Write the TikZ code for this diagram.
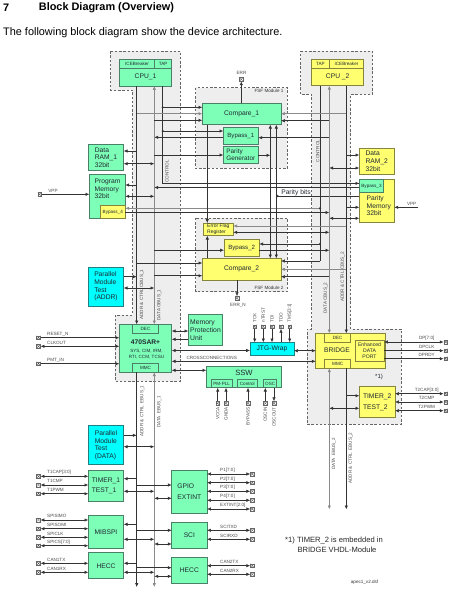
\documentclass[tikz,border=0pt]{standalone}
\usepackage{fontspec}
\setmainfont{Liberation Sans}
\usetikzlibrary{arrows.meta}
\definecolor{grn}{HTML}{7DFFB8}
\definecolor{yel}{HTML}{FFFF70}
\definecolor{cyn}{HTML}{00FFFF}
\definecolor{reg}{HTML}{EEEEEE}
\definecolor{bln}{HTML}{4A7F68}
\definecolor{yln}{HTML}{85853C}
\definecolor{cln}{HTML}{207F7F}
\definecolor{lin}{HTML}{333333}
\definecolor{gln}{HTML}{8A8A8A}
\definecolor{txt}{HTML}{202830}
\newcommand\fM{\fontsize{6.7}{7.7}\selectfont}
\newcommand\fS{\fontsize{4.6}{5.2}\selectfont}
\newcommand\fE{\fontsize{5.1}{5.7}\selectfont}
\newcommand\fH{\fontsize{10.9}{12}\selectfont}
\newcommand\bx[7]{\pgfmathsetmacro\bw{#4-#2}\pgfmathsetmacro\bh{#5-#3}\pgfmathsetmacro\bcx{(#2+#4)/2}\pgfmathsetmacro\bcy{(#3+#5)/2}\node[#6,minimum width=\bw pt,minimum height=\bh pt] (#1) at (\bcx,\bcy) {#7};}
\newcommand\hl[4][]{\draw[conn,#1] (#2 |- 0,#4) -- (#3 |- 0,#4);}
\newcommand\vl[4][]{\draw[conn,#1] (#2 |- #3) -- (#2 |- #4);}
\newcommand\lport[5][]{\node[port] (#2) at (38.5,#3) {};\node[plbl,anchor=west] (#2t) at ({47},{#3-3.6}) {#4};\draw[conn,#1] (#2) -- (#5.west |- #2);}
\newcommand\rport[6][]{\node[port] (#2) at (#6,#3) {};\node[plbl,anchor=west] (#2t) at ({220},{#3-3.6}) {#4};\draw[conn,#1] (#2) -- (#5.east |- #2);}
\newcommand\bport[5][]{\node[port] (#2) at (445.7,#3) {};\node[plbl] (#2t) at ({426.7},{#3-3.8}) {#4};\draw[conn,#1] (#2) -- (#5.east |- #2);}
\newcommand\tport[5][]{\node[port] (#2) at (#3,326.7) {};\node[plbl,rotate=90,anchor=west] (#2t) at (#3,322.7) {#4};\draw[conn,#1] (#2) -- (#5.north -| #2);}
\newcommand\sport[5][]{\node[port] (#2) at (#3,403.3) {};\node[plbl,rotate=90,anchor=east] (#2t) at (#3,407) {#4};\draw[conn,#1] (#2) -- (#5.south -| #2);}
\tikzset{
 >={Latex[length=3.8pt,width=3.3pt]},
 conn/.style={draw=lin,line width=.55pt},
 grey/.style={draw=gln,line width=.65pt},
 dt/.style={-{Circle[length=2.3pt]}},
 region/.style={draw=black!60,dash pattern=on 2.4pt off 1.8pt,fill=reg,line width=.5pt},
 gbox/.style={draw=bln,fill=grn,line width=.7pt,inner sep=0pt,outer sep=0pt,align=left,font=\fM,text=txt},
 ybox/.style={gbox,draw=yln,fill=yel},
 cbox/.style={gbox,draw=cln,fill=cyn},
 hdr/.style={font=\fS},
 lbl/.style={inner sep=0pt,font=\fM,text=txt,align=left},
 plbl/.style={inner sep=0pt,font=\fS,text=black!70},
 rlbl/.style={inner sep=0pt,font=\fS,text=black!70,rotate=90},
 port/.style={draw=black!60,fill=white,minimum size=3.8pt,inner sep=0pt,line width=.35pt,
  path picture={\draw[black!70,line width=.3pt] (path picture bounding box.north west) -- (path picture bounding box.south east) (path picture bounding box.north east) -- (path picture bounding box.south west);}},
}
\begin{document}
\begin{tikzpicture}[x=1pt,y=-1pt]
\useasboundingbox (0,0) rectangle (461,600);
\fill[white] (0,0) rectangle (461,600);
% headings
\node[inner sep=0pt,anchor=west,font=\fH\bfseries] (hn) at (3,8) {7};
\node[inner sep=0pt,anchor=west,font=\fH\bfseries] (ht) at (38.7,8) {Block Diagram (Overview)};
\node[inner sep=0pt,anchor=west,font=\fH] (hs) at (3,32.7) {The following block diagram show the device architecture.};
% regions
\draw[region] (110.7,51) -- (180.3,51) -- (180.3,381) -- (115,381) -- (115,315) -- (132.5,315) -- (132.5,90) -- (110.7,90) -- cycle;
\draw[region] (300.7,51) -- (372.7,51) -- (372.7,94.3) -- (350.7,94.3) -- (350.7,329) -- (401,329) -- (401,424.3) -- (307,424.3) -- (307,329) -- (311.7,329) -- (311.7,94.3) -- (300.7,94.3) -- cycle;
\draw[region] (195.7,87.7) rectangle (287.3,168.3);
\draw[region] (195.7,218) rectangle (287.3,291.7);
\node[plbl,text=black!80] (m1) at (269,90.5) {FSF Module 1};
\node[plbl,text=black!80] (m2) at (269,288.3) {FSF Module 2};
% bus coordinates
\coordinate (a1) at (136.7,0);
\coordinate (d1) at (154.3,0);
\coordinate (c1) at (162.7,0);
\coordinate (c2) at (320,0);
\coordinate (d2) at (329.3,0);
\coordinate (a2) at (346.3,0);
\coordinate (pa) at (270.3,0);
\coordinate (pb) at (276.3,0);
\coordinate (ef) at (207.3,0);
% CPU
\bx{cpu1}{119.5}{68.3}{171.5}{86}{gbox}{CPU\_1}
\bx{ice1}{119.5}{59.5}{154.7}{68.3}{gbox,hdr}{ICEBreaker}
\bx{tap1}{154.7}{59.5}{171.5}{68.3}{gbox,hdr}{TAP}
\bx{cpu2}{311.7}{68.3}{363.7}{85.7}{ybox}{CPU \_2}
\bx{tap2}{311.7}{59.3}{329.3}{68.3}{ybox,hdr}{TAP}
\bx{ice2}{329.3}{59.3}{363.7}{68.3}{ybox,hdr}{ICEBreaker}
% FSF
\bx{cmp1}{202.3}{103}{281}{124.7}{gbox}{Compare\_1}
\bx{byp1}{223.3}{127}{258.3}{144.3}{gbox,font=\fontsize{6.1}{7}\selectfont}{Bypass\_1}
\bx{par}{223.3}{146}{258.3}{163.7}{gbox,font=\fontsize{6.4}{7.6}\selectfont}{Parity\\Generator}
\bx{eff}{203.3}{223}{233.3}{235.7}{ybox,font=\fontsize{5}{5.6}\selectfont}{Error Flag\\Register}
\bx{byp2}{224}{239}{259.3}{256.3}{ybox,font=\fontsize{6.1}{7}\selectfont}{Bypass\_2}
\bx{cmp2}{202.3}{258.3}{281}{280}{ybox}{Compare\_2}
% memories
\bx{ram1}{88.3}{144.3}{123.7}{170.7}{gbox}{Data\\RAM\_1\\32bit}
\bx{pm}{89.3}{174.3}{125.3}{218.3}{gbox}{}
\node[lbl,anchor=north west] (pmt) at (94.5,178.5) {Program\\Memory\\32bit};
\bx{bp4}{100.3}{205.7}{125.3}{218.3}{ybox,hdr}{Bypass\_4}
\bx{pta}{88.3}{267}{123.7}{306}{cbox}{Parallel\\Module\\Test\\(ADDR)}
\bx{ram2}{359.3}{148.3}{394.3}{174.3}{ybox}{Data\\RAM\_2\\32bit}
\bx{pmr}{359.3}{179.3}{394.3}{222.7}{ybox}{}
\node[lbl,anchor=north west] (pmrt) at (366.5,195.5) {Parity\\Memory\\32bit};
\bx{bp3}{359.3}{179.3}{383.7}{192.7}{gbox,hdr}{Bypass\_3}
% SAR
\bx{sar}{119.3}{324.3}{171.7}{372.3}{gbox}{}
\bx{dec1}{132.3}{324.3}{158.7}{333.3}{gbox,hdr}{DEC}
\bx{mmc1}{132.3}{363.3}{158.7}{372.3}{gbox,hdr}{MMC}
\node[lbl,font=\fM\bfseries,text=txt] (sart) at (145.5,341.7) {470SAR+};
\node[lbl,font=\fS,align=center] (sars) at (146.5,354.2) {SYS, CIM, IRM,\\RTI, CCM, TCSU};
\bx{mpu}{188.3}{314.3}{222.7}{345.7}{gbox,font=\fontsize{6.8}{7.8}\selectfont}{Memory\\Protection\\Unit}
\bx{jtg}{250}{342.3}{294}{355.3}{cbox}{JTG-Wrap}
\bx{ssw}{206.3}{366}{281}{387.7}{gbox}{}
\node[lbl,font=\fontsize{7.6}{8}\selectfont] (sswt) at (244,372.5) {SSW};
\bx{pll}{211.3}{379.3}{232}{387.7}{gbox,hdr}{PM-PLL}
\bx{ctl}{237.3}{379.3}{257.3}{387.7}{gbox,hdr}{Control}
\bx{osc}{263.7}{379.3}{276.7}{387.7}{gbox,hdr}{OSC}
% bridge
\bx{brg}{315.7}{333.3}{385.7}{368.3}{ybox}{}
\bx{dec2}{324.7}{333.3}{350.7}{342.3}{ybox,hdr}{DEC}
\bx{mmc2}{324.7}{359.3}{350.7}{368.3}{ybox,hdr}{MMC}
\node[lbl] (brgt) at (337,350.6) {BRIDGE};
\bx{edp}{355}{340}{384}{361.3}{ybox,font=\fE,align=center}{Enhanced\\DATA\\PORT}
\bx{tm2}{359.3}{386.7}{395}{417.3}{ybox,font=\fontsize{6.7}{11}\selectfont}{TIMER\_2\\TEST\_2}
\node[lbl,font=\fontsize{6}{7}\selectfont] (star) at (379,377.3) {*1)};
% lower blocks
\bx{ptd}{88.3}{425.7}{123.7}{464.7}{cbox}{Parallel\\Module\\Test\\(DATA)}
\bx{tm1}{88.3}{470.7}{123.7}{501}{gbox,font=\fontsize{6.7}{10.4}\selectfont}{TIMER\_1\\TEST\_1}
\bx{mib}{88.3}{515.7}{123.7}{548.3}{gbox}{MIBSPI}
\bx{hcl}{88.3}{552.7}{123.7}{578.7}{gbox}{HECC}
\bx{gpi}{171.7}{470.7}{207}{513.3}{gbox,font=\fontsize{6.7}{11}\selectfont}{GPIO\\EXTINT}
\bx{sci}{171.7}{522.7}{207}{548.3}{gbox}{SCI}
\bx{hcr}{171.7}{557.3}{207}{583.3}{gbox}{HECC}
% left bus
\vl[->]{a1}{cpu1.south}{dec1.north}
\draw[grey,<->] (d1 |- cpu1.south) -- (d1 |- dec1.north);
\draw[conn] (c1 |- cpu1.south) -- (c1 |- 0,183.4) -- (bp3.west |- 0,183.4);
\draw[conn,<-] (bp3.west |- 0,183.4) -- ++(-6,0);
\hl[<-]{cmp1.west}{c1}{107.3}
\fill[lin] (c1 |- 0,107.3) circle (1.2pt) (c1 |- 0,131) circle (1.2pt);
\hl[grey,<-]{cmp1.west}{a1}{113.7}
\hl[<-]{cmp1.west}{d1}{120.3}
\hl[<-]{byp1.west}{c1}{131}
\hl[->]{byp1.west}{d1}{137.3}
\hl[<-]{par.west}{d1}{155}
\hl[<-]{ram1.east}{a1}{151}
\hl[<->]{ram1.east}{d1}{163.7}
\hl[<-]{pm.east}{a1}{185}
\hl[<->]{pm.east}{d1}{196.3}
\hl[->]{bp3.west}{d1}{187.5}
\hl[grey,<-]{bp4.east}{c2}{208.3}
\hl[->]{bp4.east}{d2}{212.5}
\hl[<-]{byp2.west}{d1}{250.2}
\hl[<-]{cmp2.west}{a1}{263}
\hl[<-]{cmp2.west}{d1}{275.7}
\hl[->]{pta.east}{a1}{276.7}
\hl[<->]{pta.east}{d1}{288}
% centre verticals
\vl[->]{ef}{cmp1.south}{eff.north}
\vl[->]{ef}{cmp2.north}{eff.south}
\vl[<->]{pa}{cmp1.south}{cmp2.north}
\vl[<->]{pb}{cmp1.south}{cmp2.north}
\hl[->]{par.east}{pa}{155.3}
\hl[dt]{pmr.west}{pb}{196}
\node[lbl] (pbt) at (296,192.3) {Parity bits};
% ERR
\node[port] (perr) at (241.3,79.3) {};
\node[plbl] (terr) at (241.5,72.5) {ERR};
\draw[conn,->] (cmp1.north -| perr) -- (perr);
\node[port] (perrn) at (237,298.3) {};
\node[plbl] (terrn) at (238,305) {ERR\_N};
\draw[conn,->] (cmp2.south -| perrn) -- (perrn);
% right bus
\vl{c2}{cpu2.south}{0,261}
\draw[grey,<->] (d2 |- cpu2.south) -- (d2 |- dec2.north);
\vl[->]{a2}{cpu2.south}{dec2.north}
\hl[grey,<-]{cmp1.east}{a2}{113.7}
\hl[<-]{cmp1.east}{d2}{120.7}
\hl[<-]{byp1.east}{d2}{137.7}
\hl[->]{a2}{ram2.west}{155}
\hl[<->]{d2}{ram2.west}{168}
\hl[->]{a2}{pmr.west}{207.3}
\hl[<->]{d2}{pmr.west}{218.3}
\fill[lin] (c2 |- 0,208.3) circle (1.2pt) (c2 |- 0,244) circle (1.2pt);
\hl[grey,<-]{eff.east}{a2}{226}
\hl[<->]{eff.east}{d2}{232.3}
\hl[<-]{byp2.east}{c2}{244}
\hl[->]{byp2.east}{d2}{250.3}
\hl[<-]{cmp2.east}{c2}{261}
\hl[grey,<-]{cmp2.east}{a2}{269.3}
\hl[<-]{cmp2.east}{d2}{276.7}
% VPP
\node[port] (vppl) at (39.7,194.3) {};
\node[plbl] (tvl) at (53,191) {VPP};
\draw[conn,->] (vppl) -- (pm.west |- vppl);
\coordinate (vppr) at (418,207.3);
\node[plbl] (tvr) at (411.7,204) {VPP};
\draw[conn,->] (vppr) -- (pmr.east |- vppr);
% SAR links
\lport[->]{prs}{337.7}{RESET\_N}{sar}
\lport[<->]{pck}{346.3}{CLKOUT}{sar}
\lport[->]{ppm}{363.7}{PMT\_IN}{sar}
\hl[<->]{sar.east}{mpu.west}{331}
\hl[<-]{sar.east}{mpu.west}{339.3}
\hl[<->]{sar.east}{jtg.west}{350.5}
\hl[<->]{sar.east}{brg.west}{361.3}
\node[plbl] (tcc) at (211.7,357.8) {CROSSCONNECTIONS};
\hl[<->]{sar.east}{ssw.west}{370.3}
\hl[<->]{jtg.east}{brg.west}{350.7}
% lower buses
\coordinate (endl) at (0,587);
\coordinate (endr) at (0,509.3);
\vl[->]{a1}{mmc1.south}{endl}
\draw[grey,<->] (d1 |- mmc1.south) -- (d1 |- endl);
\draw[grey,<->] (d2 |- mmc2.south) -- (d2 |- endr);
\vl[->]{a2}{mmc2.south}{endr}
\hl[->]{ptd.east}{a1}{435.3}
\hl[<->]{ptd.east}{d1}{446.7}
\hl[<-]{tm1.east}{a1}{478.7}
\hl[<->]{tm1.east}{d1}{491.3}
\hl[<-]{gpi.west}{a1}{485}
\hl[<->]{gpi.west}{d1}{498.3}
\hl[<-]{mib.east}{a1}{524.3}
\hl[<->]{mib.east}{d1}{539.3}
\hl[<-]{sci.west}{a1}{530.3}
\hl[<->]{sci.west}{d1}{544}
\hl[<-]{hcl.east}{a1}{563.3}
\hl[<->]{hcl.east}{d1}{572.3}
\hl[<-]{hcr.west}{a1}{567.7}
\hl[<->]{hcr.west}{d1}{576.3}
\hl[->]{a2}{tm2.west}{395.7}
\hl[<->]{d2}{tm2.west}{408.3}
% left ports
\lport[<->]{p1}{476.3}{T1CAP[3:0]}{tm1}
\lport[<->]{p2}{485}{T1CMP}{tm1}
\lport[<->]{p3}{493.7}{T1PWM}{tm1}
\lport[<->]{p4}{520}{SPISIMO}{mib}
\lport[<->]{p5}{528.7}{SPISOMI}{mib}
\lport[<->]{p6}{537.3}{SPICLK}{mib}
\lport[<->]{p7}{545.7}{SPICS[7:0]}{mib}
\lport[<->]{p8}{563.3}{CAN1TX}{hcl}
\lport[<->]{p9}{572.3}{CAN1RX}{hcl}
% right ports
\rport[<->]{q1}{474}{P1[7:0]}{gpi}{252.3}
\rport[<->]{q2}{482.7}{P2[7:0]}{gpi}{252.3}
\rport[<->]{q3}{491.3}{P3[7:0]}{gpi}{252.3}
\rport[<->]{q4}{500.3}{P4[7:0]}{gpi}{252.3}
\rport[<->]{q5}{509}{EXTINT[2:0]}{gpi}{252.3}
\rport[<->]{q6}{530.3}{SCITXD}{sci}{252.3}
\rport[<->]{q7}{539.3}{SCIRXD}{sci}{252.3}
\rport[<->]{q8}{565.7}{CAN2TX}{hcr}{252.3}
\rport[<->]{q9}{574.3}{CAN2RX}{hcr}{252.3}
% bridge ports
\bport[<->]{b1}{342}{DP[7:0]}{edp}
\bport[<-]{b2}{350.7}{DPCLK}{edp}
\bport[<-]{b3}{358.7}{DPRDY}{edp}
\bport[<->]{b4}{393.7}{T2CAP[3:0]}{tm2}
\bport[<->]{b5}{402}{T2CMP}{tm2}
\bport[<->]{b6}{410.7}{T2PWM}{tm2}
% JTAG ports
\tport[->]{j1}{254.7}{TCK}{jtg}
\tport[->]{j2}{263.3}{nTRST}{jtg}
\tport[->]{j3}{272}{TDI}{jtg}
\tport[<-]{j4}{281}{TDO}{jtg}
\tport[->]{j5}{289.7}{TMS[3:1]}{jtg}
% SSW ports
\sport[->]{s1}{217.7}{VCCA}{pll}
\sport[->]{s2}{226}{GNDA}{pll}
\sport[->]{s3}{248}{BYPASS}{ctl}
\sport[->]{s4}{265.3}{OSCIN}{osc}
\sport[<-]{s5}{274}{OSCOUT}{osc}
% bus labels
\node[rlbl] (l1) at (142,294.5) {ADDR \& CTRL CBUS\_1};
\node[rlbl] (l2) at (159.3,305) {DATA GBUS\_1};
\node[rlbl] (l3) at (167,171.5) {CONTROL};
\node[rlbl] (l4) at (317.7,151) {CONTROL};
\node[rlbl] (l5) at (325.7,298) {DATA CBUS\_2};
\node[rlbl] (l6) at (342.7,277) {ADDR \& CTRL CBUS\_2};
\node[rlbl] (l7) at (142.3,411) {ADDR \& CTRL\ \ EBUS\_1};
\node[rlbl] (l8) at (159.3,412) {DATA\ \ EBUS\_1};
\node[rlbl] (l9) at (334,454) {DATA\ \ EBUS\_2};
\node[rlbl] (l10) at (350.7,458) {ADDR \& CTRL\ \ EBUS\_2};
% notes
\node[inner sep=0pt,anchor=west,font=\fontsize{7.6}{9}\selectfont,text=black!85] (n1) at (285,540.7) {*1) TIMER\_2 is embedded in};
\node[inner sep=0pt,anchor=west,font=\fontsize{7.6}{9}\selectfont,text=black!85] (n2) at (297.3,549.7) {BRIDGE VHDL-Module};
\node[inner sep=0pt,anchor=west,font=\fontsize{4.6}{5}\selectfont,text=black!80] (n3) at (350.7,582) {apec1\_v2.dsf};
\end{tikzpicture}
\end{document}
